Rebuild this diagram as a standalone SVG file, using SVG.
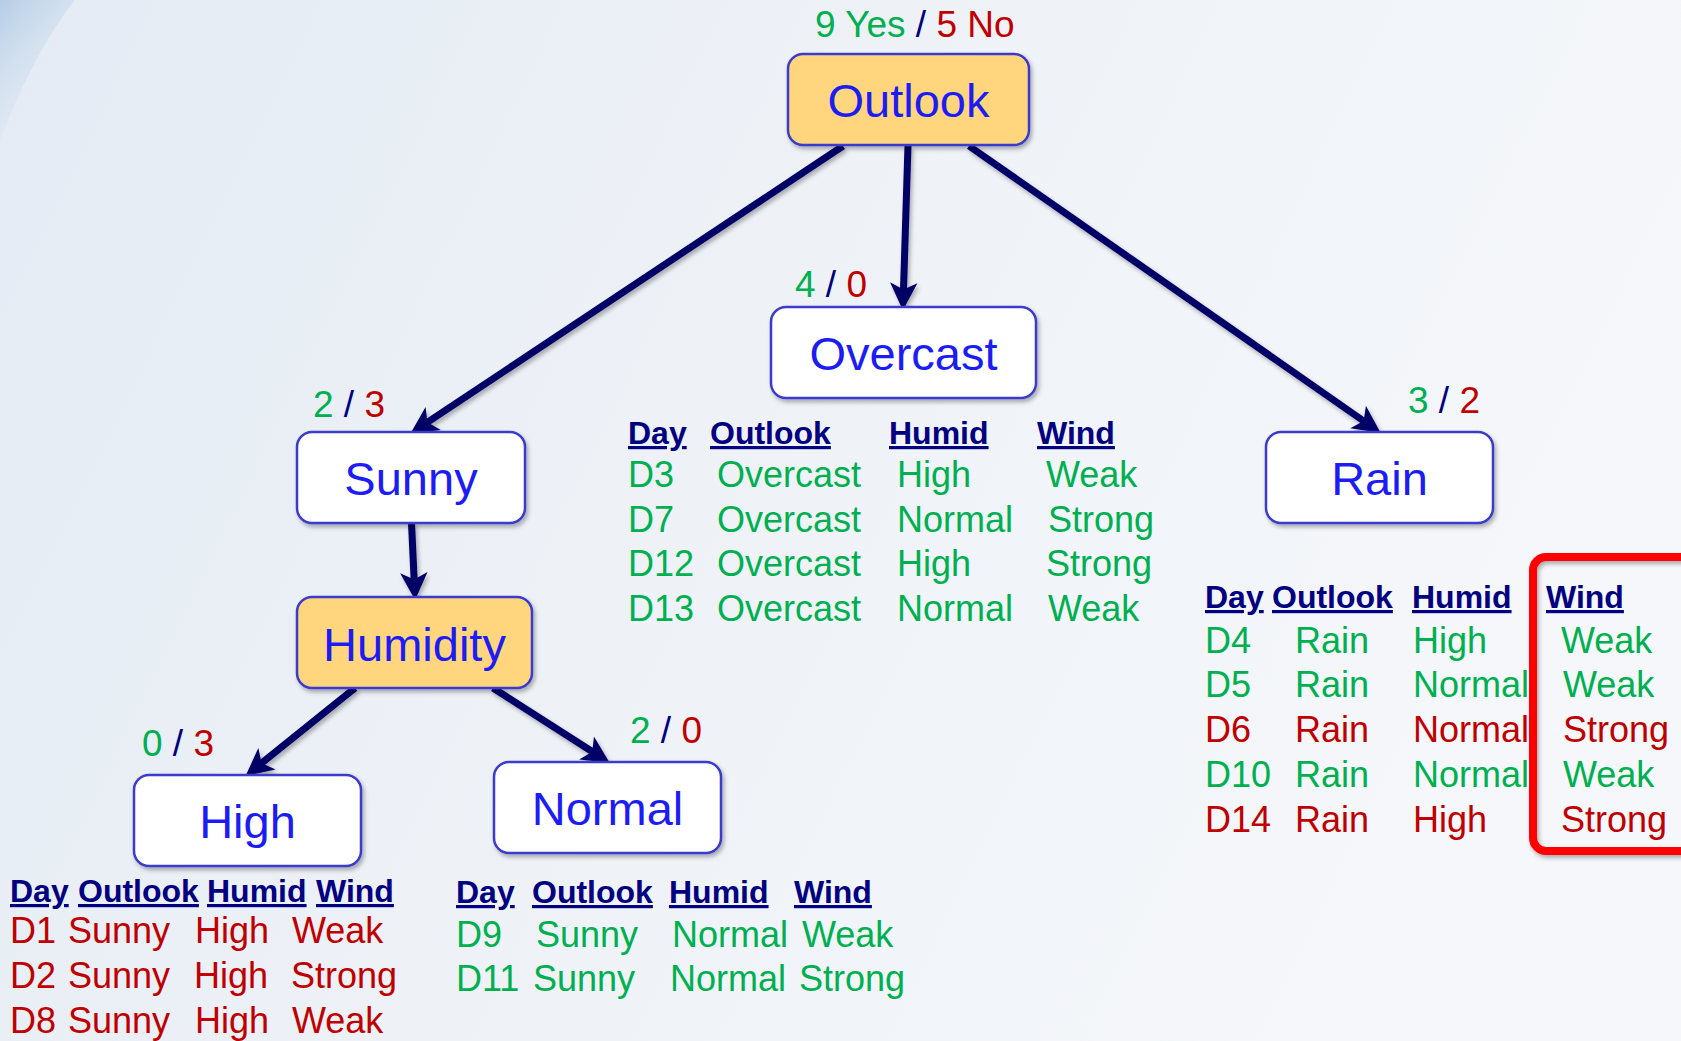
<svg xmlns="http://www.w3.org/2000/svg" width="1681" height="1041" viewBox="0 0 1681 1041">
<defs>
  <linearGradient id="bg" x1="0" y1="0" x2="1" y2="0.3">
    <stop offset="0" stop-color="#e4ebf4"/>
    <stop offset="0.5" stop-color="#eef2f7"/>
    <stop offset="1" stop-color="#f5f7fa"/>
  </linearGradient>
  <linearGradient id="swoosh" x1="0" y1="0" x2="0.6" y2="1">
    <stop offset="0" stop-color="#b5cde6"/>
    <stop offset="1" stop-color="#dbe6f2" stop-opacity="0"/>
  </linearGradient>
  <filter id="shadow" x="-10%" y="-10%" width="130%" height="140%">
    <feDropShadow dx="2" dy="3" stdDeviation="2" flood-color="#000000" flood-opacity="0.3"/>
  </filter>
  <marker id="arrow" markerUnits="userSpaceOnUse" markerWidth="40" markerHeight="40" viewBox="-15 -15 35 30" refX="0" refY="0" orient="auto">
    <path d="M15,0 L-9,-12 L-3,0 L-9,12 Z" fill="#000066"/>
  </marker>
  <style>
    text { font-family: "Liberation Sans", Arial, sans-serif; }
    .node { stroke: #3a3acc; stroke-width: 2.5; filter: url(#shadow); }
    .white { fill: #ffffff; }
    .yellow { fill: #ffd67d; }
    .label { font-size: 47px; fill: #1c1cf5; text-anchor: middle; }
    .count { font-size: 37px; }
    .g { fill: #00b050; }
    .r { fill: #c00000; }
    .n { fill: #000080; }
    .hdr { font-size: 32px; font-weight: bold; fill: #000080; text-decoration: underline; }
    .dat { font-size: 36px; }
    .edge { stroke: #000066; stroke-width: 7; fill: none; marker-end: url(#arrow); }
  </style>
</defs>

<rect x="0" y="0" width="1681" height="1041" fill="url(#bg)"/>
<path d="M0,0 L75,0 Q35,50 0,140 Z" fill="url(#swoosh)"/>

<g id="connectors" filter="url(#shadow)">
  <line class="edge" x1="843" y1="146" x2="424.6" y2="424.2"/>
  <line class="edge" x1="969" y1="146" x2="1366.5" y2="423"/>
  <line class="edge" x1="908" y1="146" x2="903.4" y2="293"/>
  <line class="edge" x1="411.5" y1="523" x2="414.3" y2="583"/>
  <line class="edge" x1="355" y1="688" x2="258.9" y2="765.2"/>
  <line class="edge" x1="493" y1="688" x2="595.2" y2="753.5"/>
</g>

<g id="outlook">
  <rect class="node yellow" x="788" y="54" width="241" height="91" rx="15"/>
  <text class="label" x="908.5" y="117">Outlook</text>
  <text class="count" x="815" y="37"><tspan class="g">9 Yes</tspan><tspan class="n"> / </tspan><tspan class="r">5 No</tspan></text>
</g>

<g id="overcast">
  <rect class="node white" x="771" y="307" width="265" height="91" rx="15"/>
  <text class="label" x="903.5" y="370">Overcast</text>
  <text class="count" x="795" y="297"><tspan class="g">4</tspan><tspan class="n"> / </tspan><tspan class="r">0</tspan></text>
</g>

<g id="sunny">
  <rect class="node white" x="297" y="432" width="228" height="91" rx="15"/>
  <text class="label" x="411" y="495">Sunny</text>
  <text class="count" x="313" y="417"><tspan class="g">2</tspan><tspan class="n"> / </tspan><tspan class="r">3</tspan></text>
</g>

<g id="rain">
  <rect class="node white" x="1266" y="432" width="227" height="91" rx="15"/>
  <text class="label" x="1379.5" y="495">Rain</text>
  <text class="count" x="1408" y="413"><tspan class="g">3</tspan><tspan class="n"> / </tspan><tspan class="r">2</tspan></text>
</g>

<g id="humidity">
  <rect class="node yellow" x="297" y="597" width="235" height="91" rx="15"/>
  <text class="label" x="414.5" y="661">Humidity</text>
</g>

<g id="high">
  <rect class="node white" x="134" y="775" width="227" height="91" rx="15"/>
  <text class="label" x="247.5" y="838">High</text>
  <text class="count" x="142" y="756"><tspan class="g">0</tspan><tspan class="n"> / </tspan><tspan class="r">3</tspan></text>
</g>

<g id="normal">
  <rect class="node white" x="494" y="762" width="227" height="91" rx="15"/>
  <text class="label" x="607.5" y="825">Normal</text>
  <text class="count" x="630" y="743"><tspan class="g">2</tspan><tspan class="n"> / </tspan><tspan class="r">0</tspan></text>
</g>

<g id="table-overcast">
  <text class="hdr" x="628" y="444">Day</text>
  <text class="hdr" x="710" y="444">Outlook</text>
  <text class="hdr" x="889" y="444">Humid</text>
  <text class="hdr" x="1037" y="444">Wind</text>
  <g class="dat g">
    <text x="628" y="487">D3</text><text x="717" y="487">Overcast</text><text x="897" y="487">High</text><text x="1046" y="487">Weak</text>
    <text x="628" y="532">D7</text><text x="717" y="532">Overcast</text><text x="897" y="532">Normal</text><text x="1048" y="532">Strong</text>
    <text x="628" y="576">D12</text><text x="717" y="576">Overcast</text><text x="897" y="576">High</text><text x="1046" y="576">Strong</text>
    <text x="628" y="621">D13</text><text x="717" y="621">Overcast</text><text x="897" y="621">Normal</text><text x="1048" y="621">Weak</text>
  </g>
</g>

<g id="table-rain">
  <text class="hdr" x="1205" y="608">Day</text>
  <text class="hdr" x="1272" y="608">Outlook</text>
  <text class="hdr" x="1412" y="608">Humid</text>
  <text class="hdr" x="1546" y="608">Wind</text>
  <g class="dat g">
    <text x="1205" y="653">D4</text><text x="1295" y="653">Rain</text><text x="1413" y="653">High</text><text x="1561" y="653">Weak</text>
    <text x="1205" y="697">D5</text><text x="1295" y="697">Rain</text><text x="1413" y="697">Normal</text><text x="1563" y="697">Weak</text>
    <text x="1205" y="787">D10</text><text x="1295" y="787">Rain</text><text x="1413" y="787">Normal</text><text x="1563" y="787">Weak</text>
  </g>
  <g class="dat r">
    <text x="1205" y="742">D6</text><text x="1295" y="742">Rain</text><text x="1413" y="742">Normal</text><text x="1563" y="742">Strong</text>
    <text x="1205" y="832">D14</text><text x="1295" y="832">Rain</text><text x="1413" y="832">High</text><text x="1561" y="832">Strong</text>
  </g>
  <rect x="1533" y="557" width="170" height="294" rx="13" fill="none" stroke="#ff0000" stroke-width="8" filter="url(#shadow)"/>
</g>

<g id="table-high">
  <text class="hdr" x="10" y="902">Day</text>
  <text class="hdr" x="78" y="902">Outlook</text>
  <text class="hdr" x="207" y="902">Humid</text>
  <text class="hdr" x="316" y="902">Wind</text>
  <g class="dat r">
    <text x="10" y="943">D1</text><text x="68" y="943">Sunny</text><text x="195" y="943">High</text><text x="292" y="943">Weak</text>
    <text x="10" y="988">D2</text><text x="68" y="988">Sunny</text><text x="194" y="988">High</text><text x="291" y="988">Strong</text>
    <text x="10" y="1033">D8</text><text x="68" y="1033">Sunny</text><text x="195" y="1033">High</text><text x="292" y="1033">Weak</text>
  </g>
</g>

<g id="table-normal">
  <text class="hdr" x="456" y="903">Day</text>
  <text class="hdr" x="532" y="903">Outlook</text>
  <text class="hdr" x="669" y="903">Humid</text>
  <text class="hdr" x="794" y="903">Wind</text>
  <g class="dat g">
    <text x="456" y="947">D9</text><text x="536" y="947">Sunny</text><text x="672" y="947">Normal</text><text x="802" y="947">Weak</text>
    <text x="456" y="991">D11</text><text x="533" y="991">Sunny</text><text x="670" y="991">Normal</text><text x="799" y="991">Strong</text>
  </g>
</g>
</svg>
